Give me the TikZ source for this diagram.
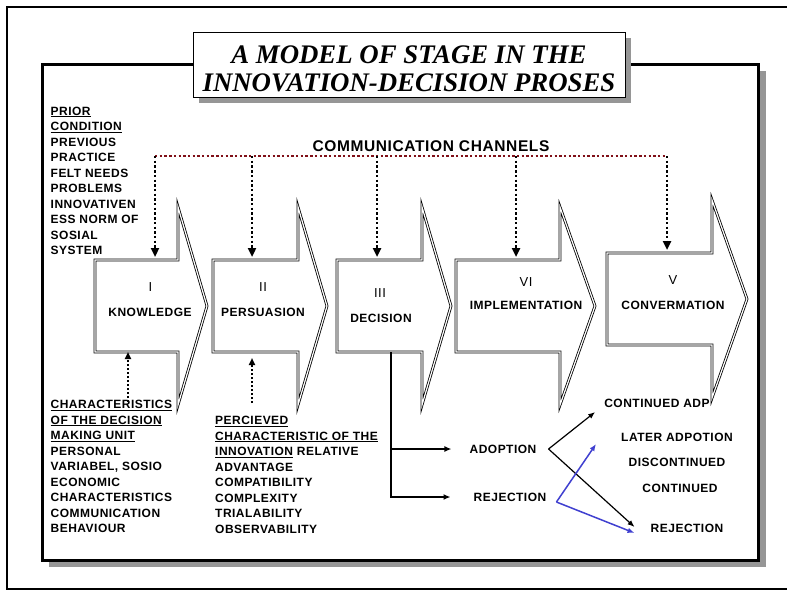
\documentclass[tikz,border=0pt]{standalone}
\usepackage{fontspec}
\setmainfont{Liberation Sans}
\newfontfamily\lblfont[LetterSpace=4]{Liberation Sans}
\newfontfamily\titlefont{Liberation Serif}
\usepackage{tikz}
\usetikzlibrary{calc}
\usetikzlibrary{arrows.meta}
\definecolor{chanred}{RGB}{128,16,24}
\definecolor{rejblue}{RGB}{64,64,208}
\definecolor{shadowgray}{RGB}{150,150,150}

\begin{document}
\begin{tikzpicture}[x=1pt,y=-1pt]
     \tikzstyle{every node}=[inner sep=0pt,font=\lblfont\bfseries\fontsize{12}{15.5}\selectfont]
     \tikzstyle{stageline}=[draw=black,double=white,double distance=1.2pt,line width=0.8pt]
     \tikzstyle{numeral}=[font=\lblfont\fontsize{13}{14}\selectfont]
     \tikzstyle{drop}=[line width=2.6pt,dash pattern=on 2.4pt off 2.3pt,-{Triangle[length=9pt,width=8pt]},shorten >=3pt]
     \tikzstyle{feed}=[line width=2pt,dash pattern=on 2pt off 2pt,-{Triangle[length=7pt,width=6pt]}]
     \tikzstyle{branch}=[line width=1.5pt,-{Latex[length=7pt,width=6pt]}]
     \tikzstyle{outcome}=[line width=1.2pt,-{Latex[length=7pt,width=5.5pt]}]
     \pgfmathsetmacro\hd{53}
      \useasboundingbox (0,0) rectangle (787,592);
      % frames and title
      \draw [line width=1.2pt] (787,7) -- (7,7) -- (7,589) -- (787,589);
      \fill [shadowgray] (49,71) rectangle (766,567);
      \draw [line width=3pt,fill=white] (42,64) rectangle (758,560);
      \fill [shadowgray] (199,38) rectangle (631,103);
      \draw [line width=1pt,fill=white] (193,32) rectangle (625,97);
      \node (Title) at (409,69) [align=center,font=\titlefont\bfseries\itshape\fontsize{26.8}{28}\selectfont] {A MODEL OF STAGE IN THE\\INNOVATION-DECISION PROSES};
      % stages
      \coordinate (Ktop) at (95,260);
      \coordinate (Ptop) at (213,260);
      \coordinate (Dtop) at (337,260);
      \coordinate (Itop) at (456,260);
      \coordinate (Ctop) at (607,253);
      \draw [stageline] (Ktop) -- (178,260) -- (178,260-\hd) -- (207,306) -- (178,352+\hd) -- (178,352) -- (95,352) -- cycle;
      \draw [stageline] (Ptop) -- (298,260) -- (298,260-\hd) -- (327,306) -- (298,352+\hd) -- (298,352) -- (213,352) -- cycle;
      \draw [stageline] (Dtop) -- (422,260) -- (422,260-\hd) -- (451,306) -- (422,352+\hd) -- (422,352) -- (337,352) -- cycle;
      \draw [stageline] (Itop) -- (560,260) -- (560,260-\hd) -- (595,306) -- (560,352+\hd) -- (560,352) -- (456,352) -- cycle;
      \draw [stageline] (Ctop) -- (712,253) -- (712,253-\hd) -- (747,299) -- (712,345+\hd) -- (712,345) -- (607,345) -- cycle;
      \node (KnNum) at (150.5,287) [numeral] {I};
      \node (Knowledge) at (150,312) {KNOWLEDGE};
      \node (PeNum) at (263,287) [numeral] {II};
      \node (Persuasion) at (263,312) {PERSUASION};
      \node (DeNum) at (380,293) [numeral] {III};
      \node (Decision) at (381,318) {DECISION};
      \node (ImNum) at (526,282) [numeral] {VI};
      \node (Implementation) at (526,305) {IMPLEMENTATION};
      \node (CoNum) at (673,280) [numeral] {V};
      \node (Convermation) at (673,305) {CONVERMATION};
      % communication channels
      \coordinate (Ch1) at (155,156);
      \coordinate (Ch2) at (252,156);
      \coordinate (Ch3) at (377,156);
      \coordinate (Ch4) at (516,156);
      \coordinate (Ch5) at (667,156);
      \draw [chanred,line width=2.6pt,dash pattern=on 2.4pt off 2.3pt] (Ch1) -- (Ch5);
      \node (Channels) at (431,146) [font=\lblfont\bfseries\fontsize{15.5}{17}\selectfont] {COMMUNICATION CHANNELS};
      \draw [drop] (Ch1) -- (Ch1 |- Ktop);
      \draw [drop] (Ch2) -- (Ch2 |- Ptop);
      \draw [drop] (Ch3) -- (Ch3 |- Dtop);
      \draw [drop] (Ch4) -- (Ch4 |- Itop);
      \draw [drop] (Ch5) -- (Ch5 |- Ctop);
      % side texts
      \node (Prior) at (50.5,106.5) [anchor=north west,align=left] {\underline{PRIOR}\\\underline{CONDITION}\\PREVIOUS\\PRACTICE\\FELT NEEDS\\PROBLEMS\\INNOVATIVEN\\ESS NORM OF\\SOSIAL\\SYSTEM};
      \node (Unit) at (50.5,400) [anchor=north west,align=left] {\underline{CHARACTERISTICS}\\\underline{OF THE DECISION}\\\underline{MAKING UNIT}\\PERSONAL\\VARIABEL, SOSIO\\ECONOMIC\\CHARACTERISTICS\\COMMUNICATION\\BEHAVIOUR};
      \node (Percieved) at (215,416) [anchor=north west,align=left] {\underline{PERCIEVED}\\\underline{CHARACTERISTIC OF THE}\\\underline{INNOVATION} RELATIVE\\ADVANTAGE\\COMPATIBILITY\\COMPLEXITY\\TRIALABILITY\\OBSERVABILITY};
      \coordinate (Kfoot) at (128,352);
      \coordinate (Kbase) at (128,402);
      \coordinate (Pfoot) at (252,358);
      \coordinate (Pbase) at (252,403);
      \draw [feed] (Kbase) -- (Kfoot);
      \draw [feed] (Pbase) -- (Pfoot);
      % decision outcomes
      \coordinate (Dfoot) at (391,352);
      \node (Adopt) at (503,449) {ADOPTION};
      \node (Reject) at (510,497) {REJECTION};
      \node (ContAdp) at (657,403) {CONTINUED ADP};
      \node (Later) at (677,437) {LATER ADPOTION};
      \node (Discont) at (677,462) {DISCONTINUED};
      \node (Cont) at (680,488) {CONTINUED};
      \node (RejectTwo) at (687,528) {REJECTION};
      \draw [branch] (Dfoot) |- ([xshift=-18pt]Adopt.west);
      \draw [branch] (Dfoot) |- ([xshift=-23pt]Reject.west);
      \draw [outcome] ([xshift=12pt]Adopt.east) -- ([shift={(-9,9)}]ContAdp.west);
      \draw [outcome] ([xshift=12pt]Adopt.east) -- ([shift={(-16,-1)}]RejectTwo.west);
      \draw [outcome,rejblue,line width=1.5pt] ([shift={(10,5)}]Reject.east) -- ([shift={(-25,7)}]Later.west);
      \draw [outcome,rejblue,line width=1.5pt] ([shift={(10,5)}]Reject.east) -- ([shift={(-16,5)}]RejectTwo.west);
    \end{tikzpicture}
\end{document}
